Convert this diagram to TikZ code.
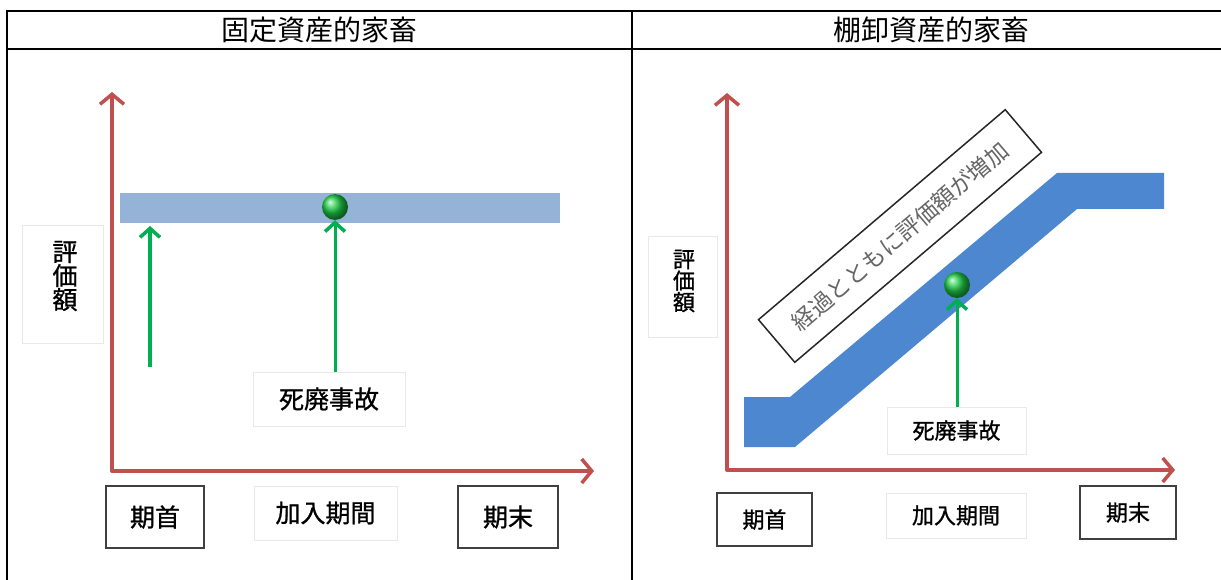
\documentclass[tikz,border=0pt]{standalone}
\usepackage{fontspec}
\newfontfamily\jp{Noto Sans CJK JP}
\newfontfamily\jpb{Noto Sans CJK JP}[FakeBold=1]
\usetikzlibrary{arrows.meta}
\definecolor{axisred}{RGB}{192,80,77}
\definecolor{bandlight}{RGB}{149,178,215}
\definecolor{banddark}{RGB}{76,135,208}
\definecolor{arrowgreen}{RGB}{0,176,80}
\definecolor{ballgreen}{RGB}{30,205,70}
\definecolor{boxgray}{RGB}{64,64,64}
\begin{document}
\begin{tikzpicture}[x=1pt,y=-1pt,
  tableline/.style={line width=2pt, black},
  titletext/.style={font=\jp\fontsize{28}{28}\selectfont},
  axisline/.style={draw=axisred, line width=4pt, line join=round,
    {Straight Barb[length=10pt,width=24pt,line width=3.5pt]}-{Straight Barb[length=10pt,width=24pt,line width=3.5pt]}},
  garrow/.style={draw=arrowgreen, line width=3.5pt,
    -{Straight Barb[length=9pt,width=20pt,line width=3.5pt]}},
  ball/.style={circle, minimum size=26pt, inner sep=0pt, shading=ball, ball color=ballgreen},
  faintbox/.style={draw=black!9, line width=1pt, inner sep=0pt},
  darkbox/.style={draw=boxgray, line width=2pt, inner sep=0pt},
  lblA/.style={font=\jpb\fontsize{25}{25}\selectfont},
  lblB/.style={font=\jpb\fontsize{22}{22}\selectfont}]
\useasboundingbox (0,0) rectangle (1221,580);
\fill[white] (0,0) rectangle (1221,580);

% table
\draw[tableline] (7,580) -- (7,11) -- (1221,11);
\draw[tableline] (7,49) -- (1221,49);
\draw[tableline] (632,11) -- (632,580);
\node[titletext] (t1) at (319,30) {固定資産的家畜};
\node[titletext] (t2) at (931,30) {棚卸資産的家畜};

% ---------- left panel ----------
\node[fill=bandlight, minimum width=440pt, minimum height=30pt, inner sep=0pt] (band1) at (340,208) {};
\coordinate (o1) at (112,471);
\coordinate (y1) at (112,92);
\coordinate (x1) at (594,471);
\draw[axisline] (y1) -- (o1) -- (x1);

\node[faintbox, minimum width=81pt, minimum height=117pt] (v1box) at (62.5,284.5) {};
\node[lblA, align=center, inner sep=0pt] (v1) at (65,276) {評\\[-1pt]価\\[-1pt]額};

\node[faintbox, minimum width=152pt, minimum height=54pt, lblA] (d1) at (329,399) {死廃事故};
\node[darkbox, minimum width=98pt, minimum height=62pt, lblA] (s1) at (155,517) {期首};
\node[faintbox, minimum width=143pt, minimum height=54pt, lblA] (k1) at (325.5,513) {加入期間};
\node[darkbox, minimum width=100pt, minimum height=62pt, lblA] (e1) at (508,517) {期末};

\node[ball] (ball1) at (335,207) {};
\coordinate (g1bot) at (150,367);
\coordinate (g1top) at (150,226);
\draw[garrow, line width=4.5pt] (g1bot) -- (g1top);
\draw[garrow, line width=3pt] (ball1 |- d1.north) -- (ball1.south);

% ---------- right panel ----------
\fill[banddark] (744,397) -- (790,397) -- (1057,173) -- (1164,173) -- (1164,209)
  -- (1077,209) -- (795,447) -- (744,447) -- cycle;
\coordinate (o2) at (727,470);
\coordinate (y2) at (727,93);
\coordinate (x2) at (1175,470);
\draw[axisline] (y2) -- (o2) -- (x2);

\node[faintbox, minimum width=69pt, minimum height=100pt] (v2box) at (682.5,287) {};
\node[lblB, align=center, inner sep=0pt] (v2) at (684,281) {評\\[-0.5pt]価\\[-0.5pt]額};

\node[draw=black!85, line width=1.5pt, rotate=40.4, minimum width=324pt, minimum height=56pt,
  inner sep=0pt, text=black!60, font=\jp\fontsize{23}{23}\selectfont] (note) at (900,236)
  {経過とともに評価額が増加};

\node[faintbox, minimum width=139pt, minimum height=47pt, lblB] (d2) at (956.5,430.5) {死廃事故};
\node[darkbox, minimum width=95pt, minimum height=53pt, lblB] (s2) at (764.5,519.5) {期首};
\node[faintbox, minimum width=140pt, minimum height=45pt, lblB] (k2) at (956,515.5) {加入期間};
\node[darkbox, minimum width=96pt, minimum height=53pt, lblB] (e2) at (1128,512.5) {期末};

\node[ball] (ball2) at (957,285) {};
\draw[garrow, line width=3pt] (ball2 |- d2.north) -- (ball2.south);
\end{tikzpicture}
\end{document}
